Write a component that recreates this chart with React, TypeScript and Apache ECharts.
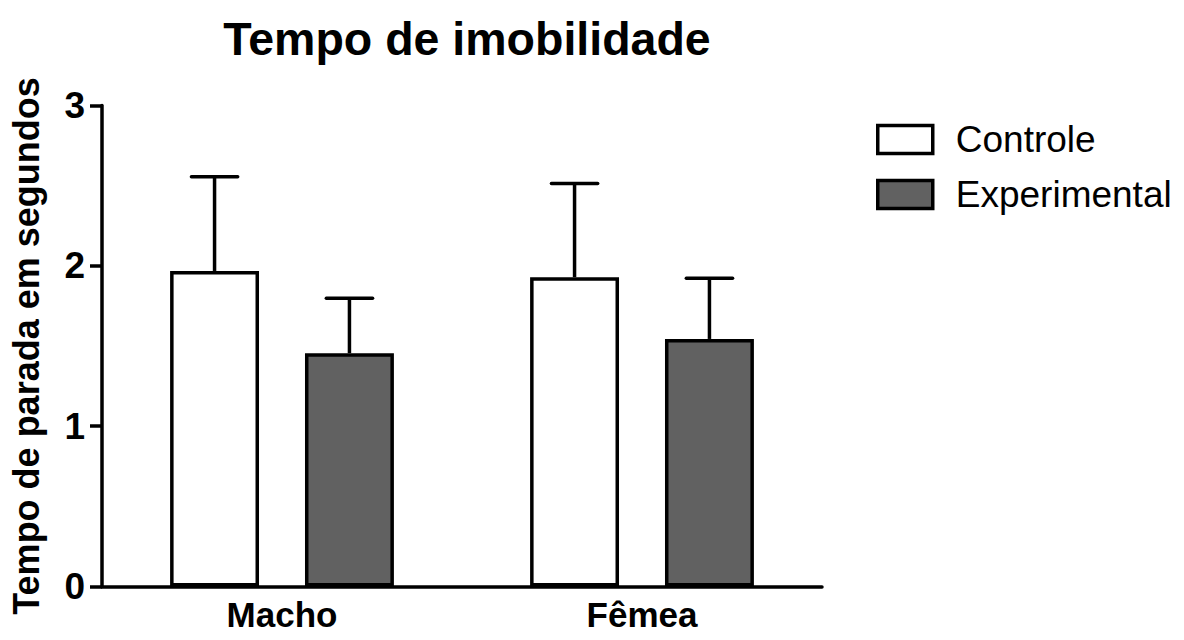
import React, { useEffect, useRef } from "react";
import * as echarts from "echarts";

const categories = ["Macho", "Fêmea"];
const seriesNames = ["Controle", "Experimental"];
const controleMean = [1.968, 1.929];
const controleSem = [0.587, 0.584];
const experimentalMean = [1.455, 1.544];
const experimentalSem = [0.343, 0.379];
const yTicks = [0, 1, 2, 3];

const FONT = "'Liberation Sans', Arial, Helvetica, sans-serif";
const BAR_W = 0.247; // fraction of band
const GAP = 0.517; // fraction of bar width

export default function App() {
  const ref = useRef<HTMLDivElement>(null);
  useEffect(() => {
    document.body.style.margin = "0";
    if (!ref.current) return;
    const chart = echarts.init(ref.current, undefined, { renderer: "svg" });

    const errItem = (side: number) => (params: any, api: any) => {
      const idx = api.value(0);
      const mean = api.value(1);
      const upper = api.value(2);
      const band = api.size([1, 0])[0];
      const bw = band * BAR_W;
      const gap = bw * GAP;
      const off = side * (bw + gap) / 2;
      const pMean = api.coord([idx, mean]);
      const pUp = api.coord([idx, upper]);
      const cx = pMean[0] + off;
      const half = bw * 0.26;
      const st = { stroke: "#000", lineWidth: 3.5 };
      return {
        type: "group",
        children: [
          { type: "line", shape: { x1: cx, y1: pMean[1], x2: cx, y2: pUp[1] }, style: st },
          { type: "line", shape: { x1: cx - half, y1: pUp[1], x2: cx + half, y2: pUp[1] }, style: { ...st, lineCap: "round" } },
        ],
      };
    };

    const option: any = {
      animation: false,
      backgroundColor: "#fff",
      title: {
        text: "Tempo de imobilidade",
        left: 462,
        top: 10,
        textAlign: "center",
        textStyle: { fontFamily: FONT, fontSize: 46.5, fontWeight: "bold", color: "#000" },
      },
      legend: {
        data: seriesNames,
        orient: "vertical",
        left: 871,
        top: 116,
        itemWidth: 55,
        itemHeight: 28,
        itemGap: 18,
        icon: "rect",
        itemStyle: { borderColor: "#000", borderWidth: 3.5 },
        textStyle: { fontFamily: FONT, fontSize: 37, color: "#000", padding: [0, 0, 0, 18], lineHeight: 28 },
      },
      grid: { left: 100, right: 362, top: 105.5, bottom: 53.5, containLabel: false },
      xAxis: {
        type: "category",
        data: categories,
        axisLine: { lineStyle: { color: "#000", width: 3.5 } },
        axisTick: { show: false },
        axisLabel: { fontFamily: FONT, fontSize: 35, fontWeight: "bold", color: "#000", margin: 10 },
      },
      yAxis: {
        type: "value",
        min: 0,
        max: 3,
        interval: 1,
        name: "Tempo de parada em segundos",
        nameLocation: "middle",
        nameGap: 58,
        nameRotate: 90,
        nameTextStyle: { fontFamily: FONT, fontSize: 36, fontWeight: "bold", color: "#000" },
        axisLine: { show: true, lineStyle: { color: "#000", width: 3.5 } },
        axisTick: { show: true, length: 12, lineStyle: { color: "#000", width: 3.5 } },
        splitLine: { show: false },
        axisLabel: {
          fontFamily: FONT,
          fontSize: 37,
          fontWeight: "bold",
          color: "#000",
          margin: 17,
          formatter: (v: number) => (yTicks.includes(v) ? String(v) : ""),
        },
      },
      series: [
        {
          name: seriesNames[0],
          type: "bar",
          data: controleMean,
          barWidth: (BAR_W * 100) + "%",
          barGap: (GAP * 100) + "%",
          itemStyle: { color: "#ffffff", borderColor: "#000", borderWidth: 3.5 },
          z: 2,
        },
        {
          name: seriesNames[1],
          type: "bar",
          data: experimentalMean,
          barWidth: (BAR_W * 100) + "%",
          barGap: (GAP * 100) + "%",
          itemStyle: { color: "#616161", borderColor: "#000", borderWidth: 3.5 },
          z: 2,
        },
        {
          name: "err-controle",
          type: "custom",
          renderItem: errItem(-1),
          data: controleMean.map((m, i) => [i, m, m + controleSem[i]]),
          z: 3,
        },
        {
          name: "err-experimental",
          type: "custom",
          renderItem: errItem(1),
          data: experimentalMean.map((m, i) => [i, m, m + experimentalSem[i]]),
          z: 3,
        },
      ],
    };
    chart.setOption(option);
    return () => chart.dispose();
  }, []);
  return <div ref={ref} style={{ width: 1184, height: 640 }} />;
}
